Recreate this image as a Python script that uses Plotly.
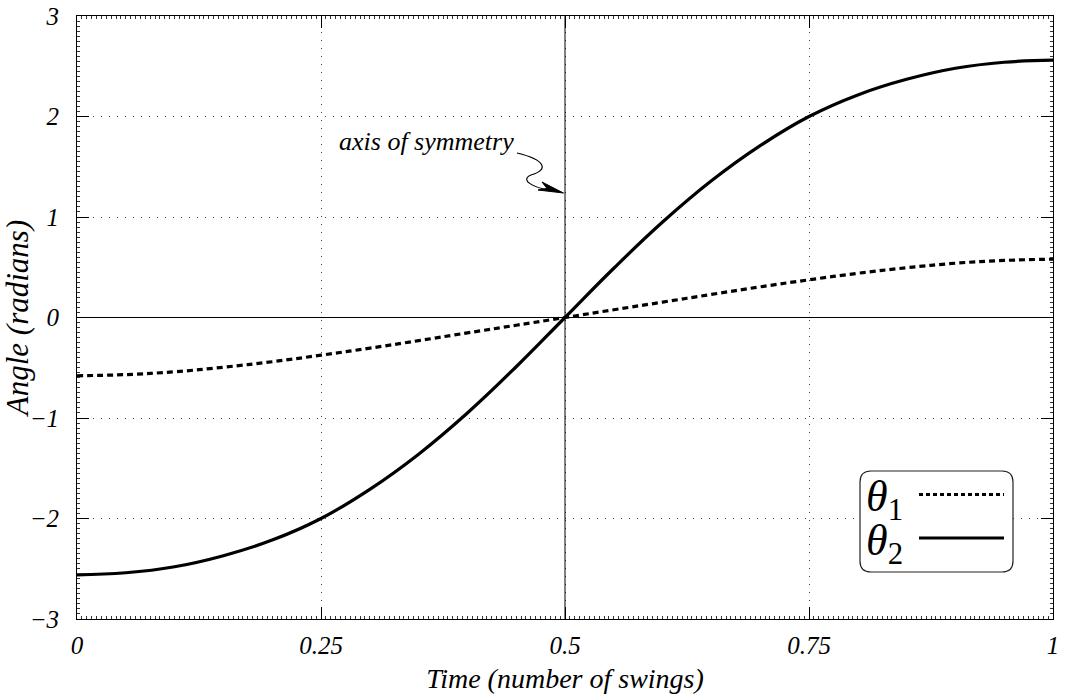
import plotly.graph_objects as go

# Time in number of swings and the two pendulum angles (radians)
time = [0.0, 0.05, 0.1, 0.15, 0.2, 0.25, 0.3, 0.35, 0.4, 0.45, 0.5,
        0.55, 0.6, 0.65, 0.7, 0.75, 0.8, 0.85, 0.9, 0.95, 1.0]
theta1 = [-0.58, -0.568, -0.54, -0.495, -0.44, -0.375, -0.305, -0.23, -0.153, -0.077, 0.0,
          0.077, 0.153, 0.23, 0.305, 0.375, 0.44, 0.495, 0.54, 0.568, 0.58]
theta2 = [-2.56, -2.54, -2.48, -2.37, -2.215, -2.0, -1.71, -1.36, -0.95, -0.49, 0.0,
          0.49, 0.95, 1.36, 1.71, 2.0, 2.215, 2.37, 2.48, 2.54, 2.56]

x_ticks = [0, 0.25, 0.5, 0.75, 1]
x_tick_text = ["0", "0.25", "0.5", "0.75", "1"]
y_ticks = [-3, -2, -1, 0, 1, 2, 3]
y_tick_text = ["\u22123", "\u22122", "\u22121", "0", "1", "2", "3"]

FONT = "Liberation Serif"


def ital(s):
    return f"<i>{s}</i>"


fig = go.Figure()

fig.add_trace(go.Scatter(
    x=time, y=theta1, mode="lines", name="θ1",
    line=dict(color="black", width=3.2, dash="6px,4px", shape="spline", smoothing=1.2),
    showlegend=False, hoverinfo="skip"))
fig.add_trace(go.Scatter(
    x=time, y=theta2, mode="lines", name="θ2",
    line=dict(color="black", width=3.2, shape="spline", smoothing=1.2),
    showlegend=False, hoverinfo="skip"))

axis_common = dict(
    showline=True, linecolor="black", linewidth=1, mirror="ticks",
    ticks="inside", ticklen=12, tickcolor="black", tickwidth=1,
    showgrid=True, gridcolor="#444444", gridwidth=1, griddash="1px,7px",
    tickfont=dict(family=FONT, size=25, color="black"),
    zeroline=False,
)

fig.update_xaxes(
    range=[0, 1], tickvals=x_ticks, ticktext=[ital(t) for t in x_tick_text],
    ticklabelstandoff=4,
    minor=dict(ticks="inside", ticklen=3, dtick=0.005, tickcolor="#333333", showgrid=False),
    title=dict(text=ital("Time (number of swings)"), standoff=10,
               font=dict(family=FONT, size=28, color="black")),
    **axis_common)
fig.update_yaxes(
    range=[-3, 3], tickvals=y_ticks, ticktext=[ital(t) for t in y_tick_text],
    ticklabelstandoff=12,
    minor=dict(ticks="inside", ticklen=3, dtick=0.05, tickcolor="#333333", showgrid=False),
    title=dict(text=ital("Angle (radians)"), standoff=4,
               font=dict(family=FONT, size=31, color="black")),
    **axis_common)

# Solid reference lines through the centre of the plot
fig.add_shape(type="line", xref="x", yref="y", x0=0.5, x1=0.5, y0=-3, y1=3,
              line=dict(color="black", width=1))
fig.add_shape(type="line", xref="x", yref="y", x0=0, x1=1, y0=0, y1=0,
              line=dict(color="black", width=1))

# Label pointing at the axis of symmetry, with a wavy arrow
fig.add_annotation(x=0.5, y=1.587, xref="x", yref="y", xanchor="right", yanchor="bottom",
                   xshift=-49, text=ital("axis of symmetry"), showarrow=False,
                   font=dict(family=FONT, size=26, color="black"))


def px_to_data(px, py):
    return (px - 77) / 976, (317.5 - py) / 100.5


def pt(px, py):
    x, y = px_to_data(px, py)
    return f"{x:.5f},{y:.5f}"


wave = (f"M {pt(517, 153)} C {pt(546, 160)} {pt(549, 170)} {pt(531, 175)} "
        f"C {pt(519, 180)} {pt(534, 188)} {pt(550, 190)}")
fig.add_shape(type="path", xref="x", yref="y", path=wave,
              line=dict(color="black", width=1.2))
head = f"M {pt(563.5, 193)} L {pt(542, 182)} L {pt(547, 188.5)} L {pt(538, 190)} Z"
fig.add_shape(type="path", xref="x", yref="y", path=head,
              fillcolor="black", line=dict(color="black", width=1))

# Hand-built legend: rounded box, symbols and sample lines
bx0, by0, bx1, by1, r = 860, 471, 1013, 572, 11
box = (f"M {pt(bx0 + r, by0)} L {pt(bx1 - r, by0)} Q {pt(bx1, by0)} {pt(bx1, by0 + r)} "
       f"L {pt(bx1, by1 - r)} Q {pt(bx1, by1)} {pt(bx1 - r, by1)} "
       f"L {pt(bx0 + r, by1)} Q {pt(bx0, by1)} {pt(bx0, by1 - r)} "
       f"L {pt(bx0, by0 + r)} Q {pt(bx0, by0)} {pt(bx0 + r, by0)} Z")
fig.add_shape(type="path", xref="x", yref="y", path=box,
              fillcolor="white", line=dict(color="#222222", width=1.2), layer="above")

for label, ly, dash in [("<i>θ</i><sub>1</sub>", 494.5, "4px,3px"),
                        ("<i>θ</i><sub>2</sub>", 538, None)]:
    lx0, lyv = px_to_data(919, ly)
    lx1, _ = px_to_data(1004, ly)
    fig.add_shape(type="line", xref="x", yref="y", x0=lx0, x1=lx1, y0=lyv, y1=lyv,
                  line=dict(color="black", width=3, dash=dash), layer="above")
    tx, ty = px_to_data(864, ly + 5)
    fig.add_annotation(x=tx, y=ty, xref="x", yref="y", xanchor="left", yanchor="middle",
                       text=label, showarrow=False,
                       font=dict(family=FONT, size=44, color="black"))

fig.update_layout(
    width=1065, height=700,
    margin=dict(l=77, r=12, t=16, b=81, autoexpand=False),
    paper_bgcolor="white", plot_bgcolor="white",
    showlegend=False,
)

fig.write_html("out.html")
